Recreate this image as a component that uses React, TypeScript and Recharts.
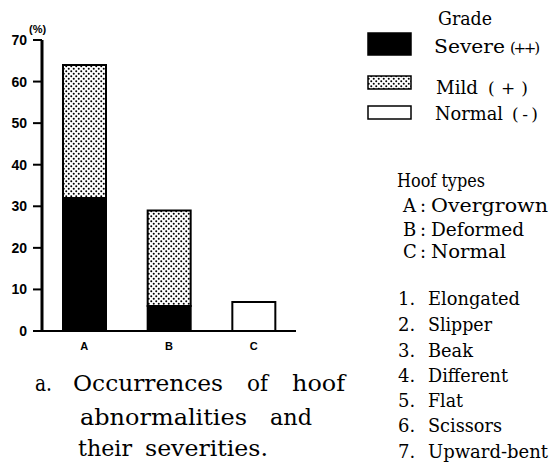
import React from 'react';
import { BarChart, Bar, XAxis, YAxis } from 'recharts';

const categories = ['A', 'B', 'C'];
const severe = [32, 6, 0];
const mild = [32, 23, 0];
const normal = [0, 0, 7];
const yTicks = [0, 10, 20, 30, 40, 50, 60, 70];

const gradeTitle = 'Grade';
const gradeLabels = ['Severe', 'Mild', 'Normal'];
const gradeMarks = ['(++)', '(+)', '(-)'];
const hoofTitle = 'Hoof types';
const hoofLetters = ['A', 'B', 'C'];
const hoofNames = ['Overgrown', 'Deformed', 'Normal'];
const listNames = ['Elongated', 'Slipper', 'Beak', 'Different', 'Flat', 'Scissors', 'Upward-bent'];
const titleLines = [
  ['a.', 'Occurrences', 'of', 'hoof'],
  ['abnormalities', 'and'],
  ['their', 'severities.'],
];

const data = categories.map((c, i) => ({
  name: c,
  severe: severe[i],
  mild: mild[i],
  normal: normal[i],
}));

const SERIF = '"DejaVu Serif", "Liberation Serif", serif';
const SANS = '"Liberation Sans", Arial, sans-serif';

// layout (positions for text overlay)
const gradeLayout = [
  { sx: 368, sy: 33, sw: 43, sh: 22, fill: '#000', tx: 434, tw: 71, mx: 510, mw: 30, by: 53 },
  { sx: 368, sy: 76, sw: 43, sh: 13, fill: 'url(#dots)', tx: 436, tw: 42, mx: 488, mw: 40, by: 94 },
  { sx: 368, sy: 106, sw: 43, sh: 13, fill: '#fff', tx: 435, tw: 68, mx: 512, mw: 26, by: 120 },
];
const hoofLayout = [
  { by: 212, w: 117 },
  { by: 236, w: 93 },
  { by: 258, w: 75 },
];
const listLayout = [
  { by: 305, w: 92 },
  { by: 331, w: 64 },
  { by: 357, w: 45 },
  { by: 382, w: 80 },
  { by: 407, w: 35 },
  { by: 432, w: 74 },
  { by: 458, w: 120 },
];
const titleLayout = [
  { by: 391, words: [{ x: 35, w: 17 }, { x: 73, w: 150 }, { x: 247, w: 21 }, { x: 292, w: 53 }] },
  { by: 425, words: [{ x: 80, w: 167 }, { x: 270, w: 42 }] },
  { by: 456, words: [{ x: 78, w: 54 }, { x: 145, w: 123 }] },
];

export default function App() {
  return (
    <div style={{ position: 'absolute', left: 0, top: 0, width: 552, height: 465, background: '#fff' }}>
      <svg width={0} height={0} style={{ position: 'absolute' }}>
        <defs>
          <pattern id="dots" x="0" y="0" width="5" height="5" patternUnits="userSpaceOnUse">
            <rect x="0" y="0" width="5" height="5" fill="#fff" />
            <circle cx="1.25" cy="1.25" r="1" fill="#000" />
            <circle cx="3.75" cy="3.75" r="1" fill="#000" />
          </pattern>
        </defs>
      </svg>
      <div style={{ position: 'absolute', left: 0, top: 0 }}>
        <BarChart
          width={552}
          height={465}
          data={data}
          margin={{ top: 40, right: 256, left: 8, bottom: 104 }}
          barSize={43}
        >
          <XAxis
            dataKey="name"
            axisLine={{ stroke: '#000', strokeWidth: 2 }}
            tickLine={false}
            tickSize={6}
            tickMargin={5}
            height={30}
            tick={{ fill: '#000', fontSize: 11, fontWeight: 700, fontFamily: SANS }}
          />
          <YAxis
            type="number"
            domain={[0, 70]}
            ticks={yTicks}
            width={34}
            axisLine={{ stroke: '#000', strokeWidth: 3 }}
            tickLine={{ stroke: '#000', strokeWidth: 2 }}
            tickSize={9}
            tickMargin={6}
            interval={0}
            tick={{ fill: '#000', fontSize: 14, fontWeight: 700, fontFamily: SANS }}
          />
          <Bar dataKey="severe" stackId="s" fill="#000" stroke="#000" strokeWidth={2} isAnimationActive={false} />
          <Bar dataKey="mild" stackId="s" fill="url(#dots)" stroke="#000" strokeWidth={2} isAnimationActive={false} />
          <Bar dataKey="normal" stackId="s" fill="#fff" stroke="#000" strokeWidth={2} isAnimationActive={false} />
        </BarChart>
      </div>
      <svg width={552} height={465} style={{ position: 'absolute', left: 0, top: 0, pointerEvents: 'none' }}>
        <text x={29} y={33} fontSize={11} fontWeight={700} fontFamily={SANS} fill="#000">(%)</text>

        <text x={438} y={25} fontSize={18} fontFamily={SERIF} fill="#000" textLength={54} lengthAdjust="spacingAndGlyphs">{gradeTitle}</text>
        {gradeLayout.map((g, i) => (
          <g key={i}>
            <rect x={g.sx} y={g.sy} width={g.sw} height={g.sh} fill={g.fill} stroke="#000" strokeWidth={1.5} />
            <text x={g.tx} y={g.by} fontSize={18} fontFamily={SERIF} fill="#000" textLength={g.tw} lengthAdjust="spacingAndGlyphs">{gradeLabels[i]}</text>
            <text x={g.mx} y={g.by} fontSize={i === 0 ? 15 : 17} fontFamily={SERIF} fill="#000" textLength={g.mw} lengthAdjust="spacing">{gradeMarks[i]}</text>
          </g>
        ))}

        <text x={397} y={187} fontSize={18} fontFamily={SERIF} fill="#000" textLength={88} lengthAdjust="spacingAndGlyphs">{hoofTitle}</text>
        {hoofLayout.map((h, i) => (
          <g key={i}>
            <text x={403} y={h.by} fontSize={18} fontFamily={SERIF} fill="#000">{hoofLetters[i]}</text>
            <text x={420} y={h.by} fontSize={18} fontFamily={SERIF} fill="#000">:</text>
            <text x={431} y={h.by} fontSize={18} fontFamily={SERIF} fill="#000" textLength={h.w} lengthAdjust="spacingAndGlyphs">{hoofNames[i]}</text>
          </g>
        ))}

        {listLayout.map((l, i) => (
          <g key={i}>
            <text x={398} y={l.by} fontSize={18} fontFamily={SERIF} fill="#000">{`${i + 1}.`}</text>
            <text x={428} y={l.by} fontSize={18} fontFamily={SERIF} fill="#000" textLength={l.w} lengthAdjust="spacingAndGlyphs">{listNames[i]}</text>
          </g>
        ))}

        {titleLayout.map((line, li) => (
          <g key={li}>
            {line.words.map((w, wi) => (
              <text key={wi} x={w.x} y={line.by} fontSize={22} fontFamily={SERIF} fill="#000" textLength={w.w} lengthAdjust="spacingAndGlyphs">
                {titleLines[li][wi]}
              </text>
            ))}
          </g>
        ))}
      </svg>
    </div>
  );
}
